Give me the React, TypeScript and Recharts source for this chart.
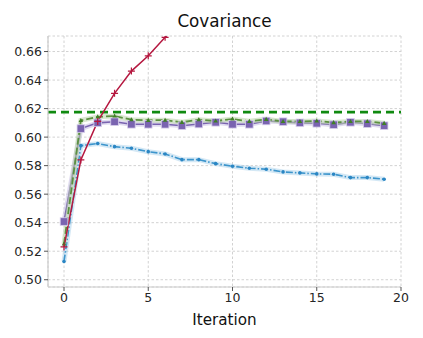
import React from "react";
import {
  ComposedChart,
  Line,
  XAxis,
  YAxis,
  CartesianGrid,
  ReferenceLine,
} from "recharts";

const iterations = [0, 1, 2, 3, 4, 5, 6, 7, 8, 9, 10, 11, 12, 13, 14, 15, 16, 17, 18, 19];
const redValues: (number | null)[] = [0.523, 0.584, 0.611, 0.6307, 0.6463, 0.657, 0.67, 0.681, null, null, null, null, null, null, null, null, null, null, null, null];
const greenValues = [0.5252, 0.6117, 0.6142, 0.6148, 0.6122, 0.6118, 0.6119, 0.6104, 0.6122, 0.6113, 0.6127, 0.6111, 0.6125, 0.611, 0.611, 0.6113, 0.6102, 0.611, 0.611, 0.6097];
const purpleValues = [0.5408, 0.606, 0.610, 0.6108, 0.609, 0.609, 0.609, 0.608, 0.6092, 0.6104, 0.609, 0.609, 0.6113, 0.6108, 0.610, 0.6097, 0.6087, 0.6104, 0.6094, 0.608];
const blueValues = [0.5128, 0.594, 0.5955, 0.5933, 0.5922, 0.5898, 0.5882, 0.5842, 0.5842, 0.5814, 0.5796, 0.5782, 0.5775, 0.5756, 0.5749, 0.5742, 0.574, 0.5716, 0.5716, 0.5705];
const referenceValue = 0.6175;
const xTicks = [0, 5, 10, 15, 20];
const yTicks = [0.5, 0.52, 0.54, 0.56, 0.58, 0.6, 0.62, 0.64, 0.66];

const data = iterations.map((x, i) => ({
  x,
  red: redValues[i],
  green: greenValues[i],
  purple: purpleValues[i],
  blue: blueValues[i],
}));

const RED = "#b5173f";
const GREEN = "#5c9140";
const PURPLE = "#7a64b0";
const BLUE = "#3d95cc";
const REF_GREEN = "#108a10";
const FONT = "DejaVu Sans, sans-serif";
const TEXT = "#262626";

const PlusDot = (p: any) => {
  const { cx, cy, index } = p;
  if (cx == null || cy == null) return <g key={`r${index}`} />;
  return (
    <path
      key={`r${index}`}
      d={`M${cx - 3.5},${cy}H${cx + 3.5}M${cx},${cy - 3.5}V${cy + 3.5}`}
      stroke={RED}
      strokeWidth={1.2}
    />
  );
};

const SquareDot = (p: any) => {
  const { cx, cy, index } = p;
  if (cx == null || cy == null) return <g key={`p${index}`} />;
  return (
    <rect
      key={`p${index}`}
      x={cx - 3.8}
      y={cy - 3.8}
      width={7.6}
      height={7.6}
      fill={PURPLE}
      stroke="#d8d0ec"
      strokeWidth={0.8}
    />
  );
};

const TriDot = (p: any) => {
  const { cx, cy, index } = p;
  if (cx == null || cy == null) return <g key={`g${index}`} />;
  return (
    <path
      key={`g${index}`}
      d={`M${cx},${cy - 2.5}L${cx + 2.3},${cy + 1.6}L${cx - 2.3},${cy + 1.6}Z`}
      fill="#3f7f25"
    />
  );
};

const CircleDot = (p: any) => {
  const { cx, cy, index } = p;
  if (cx == null || cy == null) return <g key={`b${index}`} />;
  return <circle key={`b${index}`} cx={cx} cy={cy} r={1.8} fill="#2a86c4" />;
};

export default function App() {
  return (
    <div style={{ position: "absolute", left: 0, top: 0, width: 423, height: 338, background: "#fff" }}>
      <div
        style={{
          position: "absolute",
          left: 48,
          width: 353,
          top: 9,
          textAlign: "center",
          fontFamily: FONT,
          fontSize: 16.8,
          color: "#111",
          lineHeight: "24px",
        }}
      >
        Covariance
      </div>
      <ComposedChart
        width={423}
        height={338}
        data={data}
        margin={{ top: 36, right: 22, bottom: 0, left: 0 }}
      >
        <CartesianGrid stroke="#d2d2d2" strokeDasharray="2.5 2" horizontal vertical />
        <XAxis
          dataKey="x"
          type="number"
          domain={[-0.95, 20]}
          ticks={xTicks}
          allowDataOverflow
          height={51}
          stroke="#cccccc"
          axisLine={{ stroke: "#cccccc", strokeWidth: 1.2 }}
          tickLine={{ stroke: "#555" }}
          tickSize={4}
          tickMargin={2}
          tick={{ fill: TEXT, fontSize: 12.5, fontFamily: FONT }}
          label={{
            value: "Iteration",
            position: "insideBottom",
            offset: 13,
            fill: "#111",
            fontSize: 15.2,
            fontFamily: FONT,
          }}
        />
        <XAxis
          xAxisId="top"
          orientation="top"
          dataKey="x"
          type="number"
          domain={[-0.95, 20]}
          height={0}
          tick={false}
          tickLine={false}
          axisLine={{ stroke: "#cccccc", strokeWidth: 1.2 }}
        />
        <YAxis
          type="number"
          domain={[0.4949, 0.6709]}
          ticks={yTicks}
          allowDataOverflow
          width={48}
          axisLine={{ stroke: "#cccccc", strokeWidth: 1.2 }}
          tickLine={{ stroke: "#555" }}
          tickSize={4}
          tickMargin={2}
          tickFormatter={(v: number) => v.toFixed(2)}
          tick={{ fill: TEXT, fontSize: 12.5, fontFamily: FONT }}
        />
        <YAxis
          yAxisId="right"
          orientation="right"
          type="number"
          domain={[0.4949, 0.6709]}
          width={0}
          tick={false}
          tickLine={false}
          axisLine={{ stroke: "#cccccc", strokeWidth: 1.2 }}
        />
        <ReferenceLine y={referenceValue} stroke={REF_GREEN} strokeWidth={2.6} strokeDasharray="8 5" />

        <Line dataKey="blue" stroke="#9fcbe8" strokeOpacity={0.45} strokeWidth={5} dot={false} activeDot={false} isAnimationActive={false} />
        <Line dataKey="blue" stroke={BLUE} strokeWidth={1.6} strokeDasharray="7 2 1.5 2" dot={CircleDot} activeDot={false} isAnimationActive={false} />

        <Line dataKey="purple" stroke="#c7bde3" strokeOpacity={0.55} strokeWidth={5} dot={false} activeDot={false} isAnimationActive={false} />
        <Line dataKey="purple" stroke={PURPLE} strokeWidth={1.6} dot={SquareDot} activeDot={false} isAnimationActive={false} />

        <Line dataKey="green" stroke="#b9d4a9" strokeOpacity={0.55} strokeWidth={5} dot={false} activeDot={false} isAnimationActive={false} />
        <Line dataKey="green" stroke={GREEN} strokeWidth={1.8} strokeDasharray="7 3" dot={TriDot} activeDot={false} isAnimationActive={false} />

        <Line dataKey="red" stroke={RED} strokeWidth={1.5} dot={PlusDot} activeDot={false} connectNulls={false} isAnimationActive={false} />
      </ComposedChart>
    </div>
  );
}
